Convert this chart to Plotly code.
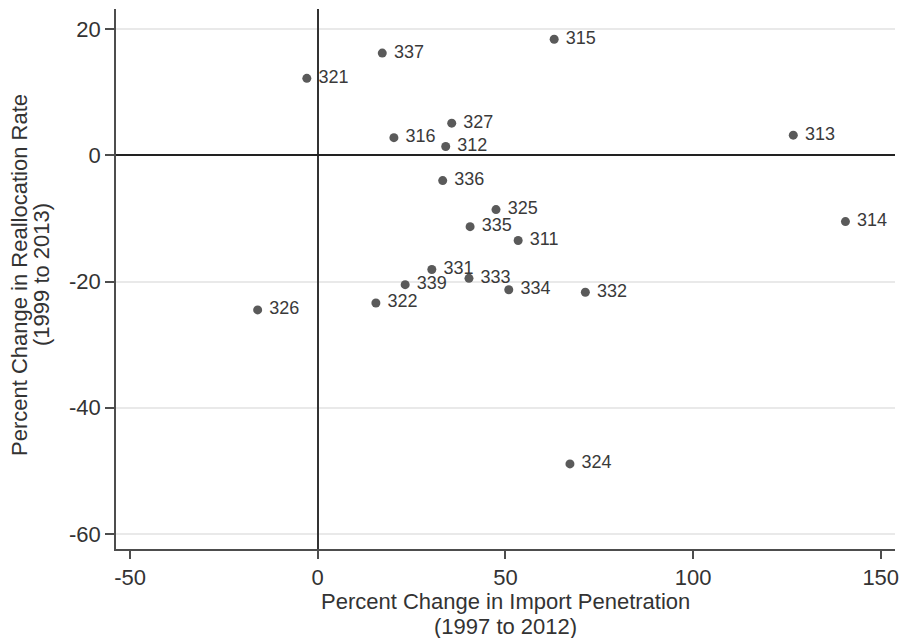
import plotly.graph_objects as go

# Industry (NAICS) codes
codes = ["315", "337", "321", "316", "327", "312", "313", "336", "325", "314",
         "335", "311", "331", "333", "339", "334", "332", "322", "326", "324"]
# Percent change in import penetration (1997 to 2012)
import_change = [63.0, 17.2, -2.9, 20.3, 35.7, 34.1, 126.7, 33.3, 47.5, 140.6,
                 40.6, 53.4, 30.4, 40.3, 23.3, 50.9, 71.3, 15.5, -16.0, 67.2]
# Percent change in reallocation rate (1999 to 2013)
realloc_change = [18.4, 16.2, 12.2, 2.8, 5.1, 1.4, 3.2, -4.0, -8.6, -10.5,
                  -11.3, -13.5, -18.1, -19.5, -20.5, -21.3, -21.7, -23.4, -24.5, -48.9]

x_ticks = [-50, 0, 50, 100, 150]
y_ticks = [-60, -40, -20, 0, 20]

x_title_lines = ["Percent Change in Import Penetration", "(1997 to 2012)"]
y_title_lines = ["Percent Change in Reallocation Rate", "(1999 to 2013)"]

FONT = "Liberation Sans, Arial, sans-serif"
AX = "#4d4d4d"
TXT = "#333333"

fig = go.Figure()
fig.add_trace(go.Scatter(
    x=import_change, y=realloc_change, mode="markers+text",
    text=[" " + c for c in codes], textposition="middle right",
    textfont=dict(family=FONT, size=18, color="#3a3a3a"),
    marker=dict(size=9, color="#5a5a5a"),
    showlegend=False, hoverinfo="skip", cliponaxis=False,
))

fig.update_layout(
    width=903, height=638,
    margin=dict(l=116, r=8, t=9, b=89),
    paper_bgcolor="white", plot_bgcolor="white",
    font=dict(family=FONT, color=TXT),
)
fig.update_xaxes(
    range=[-53.74, 153.8], tickvals=x_ticks, ticktext=[str(v) for v in x_ticks],
    automargin=False, ticklabeloverflow="allow",
    showgrid=False, zeroline=True, zerolinecolor="#333333", zerolinewidth=1.6,
    showline=True, linecolor=AX, linewidth=1.6,
    ticks="outside", ticklen=8, tickwidth=1.5, tickcolor=AX,
    tickfont=dict(family=FONT, size=22, color=TXT),
)
fig.update_yaxes(
    range=[-62.39, 23.19], tickvals=y_ticks, ticktext=[str(v) for v in y_ticks],
    automargin=False, ticklabeloverflow="allow",
    showgrid=True, gridcolor="#e9e9e9", gridwidth=1.5,
    zeroline=True, zerolinecolor="#222222", zerolinewidth=2,
    showline=True, linecolor=AX, linewidth=1.6,
    ticks="outside", ticklen=9, tickwidth=1.5, tickcolor=AX,
    tickfont=dict(family=FONT, size=22, color=TXT),
)

# x-axis title, two centred lines
for line, shift in zip(x_title_lines, [-52, -77]):
    fig.add_annotation(
        text=line, xref="paper", yref="paper", x=0.5, y=0,
        xanchor="center", yanchor="middle", yshift=shift,
        showarrow=False, font=dict(family=FONT, size=22, color=TXT),
    )

# y-axis title, two centred lines
for line, shift in zip(y_title_lines, [-97, -75]):
    fig.add_annotation(
        text=line, xref="paper", yref="paper", x=0, y=0.5,
        xanchor="center", yanchor="middle", xshift=shift, yshift=4,
        textangle=-90, showarrow=False,
        font=dict(family=FONT, size=22, color=TXT),
    )

# remove the default 8px page margin so the 903x638 figure fills the window exactly
fig.write_html("out.html", config={"displayModeBar": False},
               post_script="document.body.style.margin='0';")
